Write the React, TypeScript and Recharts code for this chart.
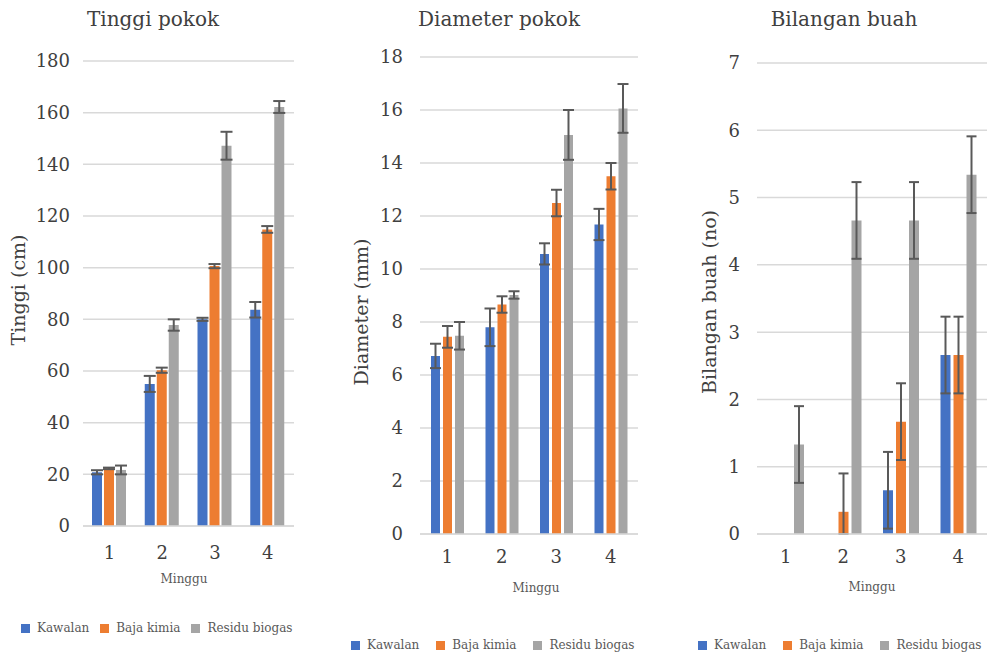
import { BarChart, Bar, XAxis, YAxis, CartesianGrid, ErrorBar, Legend, Label } from 'recharts'

const minggu = ['1', '2', '3', '4']

// Tinggi pokok (cm)
const tinggiKawalan = [20.8, 55.0, 80.0, 83.7]
const tinggiKawalanErr = [0.8, 3.1, 0.6, 3.0]
const tinggiBaja = [22.3, 60.3, 100.6, 114.8]
const tinggiBajaErr = [0.3, 1.0, 0.8, 1.3]
const tinggiResidu = [21.7, 77.8, 147.2, 162.2]
const tinggiResiduErr = [1.7, 2.2, 5.4, 2.3]
const tinggiTicks = [0, 20, 40, 60, 80, 100, 120, 140, 160, 180]

// Diameter pokok (mm)
const diameterKawalan = [6.72, 7.8, 10.57, 11.68]
const diameterKawalanErr = [0.46, 0.71, 0.4, 0.59]
const diameterBaja = [7.44, 8.66, 12.49, 13.5]
const diameterBajaErr = [0.41, 0.31, 0.5, 0.5]
const diameterResidu = [7.48, 9.02, 15.06, 16.06]
const diameterResiduErr = [0.52, 0.14, 0.94, 0.92]
const diameterTicks = [0, 2, 4, 6, 8, 10, 12, 14, 16, 18]

// Bilangan buah (no) - the week 2 error bar stops at the axis
const buahKawalan = [0, 0, 0.65, 2.66]
const buahKawalanErr = [0, 0, 0.57, 0.57]
const buahBaja = [0, 0.33, 1.67, 2.66]
const buahBajaErr: (number | [number, number])[] = [0, [0.33, 0.57], 0.57, 0.57]
const buahResidu = [1.33, 4.66, 4.66, 5.34]
const buahResiduErr = [0.57, 0.57, 0.57, 0.57]
const buahTicks = [0, 1, 2, 3, 4, 5, 6, 7]

const series = [
  { key: 'kawalan', name: 'Kawalan', color: '#4472C4' },
  { key: 'baja', name: 'Baja kimia', color: '#ED7D31' },
  { key: 'residu', name: 'Residu biogas', color: '#A5A5A5' },
]

const FONT = '"DejaVu Serif", serif'
const TEXT = '#404040'
const GRID = '#D9D9D9'

type Err = number | [number, number]

function buildRows(k: number[], kErr: Err[], b: number[], bErr: Err[], r: number[], rErr: Err[]) {
  return minggu.map((m, i) => ({
    minggu: m,
    kawalan: k[i], kawalanErr: kErr[i],
    baja: b[i], bajaErr: bErr[i],
    residu: r[i], residuErr: rErr[i],
  }))
}

const tinggiRows = buildRows(tinggiKawalan, tinggiKawalanErr, tinggiBaja, tinggiBajaErr, tinggiResidu, tinggiResiduErr)
const diameterRows = buildRows(diameterKawalan, diameterKawalanErr, diameterBaja, diameterBajaErr, diameterResidu, diameterResiduErr)
const buahRows = buildRows(buahKawalan, buahKawalanErr, buahBaja, buahBajaErr, buahResidu, buahResiduErr)

type PanelProps = {
  left: number
  width: number
  title: string
  titleX: number
  rows: ReturnType<typeof buildRows>
  ticks: number[]
  plot: { l: number; r: number; t: number; b: number }
  yTitle: string
  yTitlePos: [number, number]
  yTickMargin: number
  xTickMargin: number
  mingguPos: [number, number]
  barSize: number
  barGap: number
  cap: number
  legendPos: [number, number]
  legendGap: number
}

function Panel(p: PanelProps) {
  const yMax = p.ticks[p.ticks.length - 1]
  return (
    <div style={{ position: 'absolute', left: p.left, top: 0, width: p.width, height: 652 }}>
      <div style={{
        position: 'absolute', left: p.titleX - 150, width: 300, top: 9, textAlign: 'center',
        fontFamily: FONT, fontSize: 20, lineHeight: '20px', color: TEXT, zIndex: 2,
      }}>
        {p.title}
      </div>
      <BarChart
        width={p.width}
        height={652}
        data={p.rows}
        margin={{ top: p.plot.t, right: p.width - p.plot.r, left: 0, bottom: 0 }}
        barSize={p.barSize}
        barGap={p.barGap}
      >
        <CartesianGrid vertical={false} stroke={GRID} strokeWidth={1.5} />
        <XAxis
          dataKey="minggu"
          height={652 - p.plot.b}
          axisLine={{ stroke: GRID, strokeWidth: 1.5 }}
          tickLine={false}
          tickSize={0}
          tickMargin={p.xTickMargin}
          tick={{ fill: TEXT, fontSize: 18, fontFamily: FONT }}
        >
          <Label content={() => (
            <text x={p.mingguPos[0]} y={p.mingguPos[1]} textAnchor="middle" fill="#595959" fontSize={12} fontFamily={FONT}>
              Minggu
            </text>
          )} />
        </XAxis>
        <YAxis
          width={p.plot.l}
          domain={[0, yMax]}
          ticks={p.ticks}
          axisLine={false}
          tickLine={false}
          tickSize={0}
          tickMargin={p.yTickMargin}
          tick={{ fill: TEXT, fontSize: 18, fontFamily: FONT }}
        >
          <Label content={() => (
            <text
              x={p.yTitlePos[0]}
              y={p.yTitlePos[1]}
              transform={`rotate(-90 ${p.yTitlePos[0]} ${p.yTitlePos[1]})`}
              textAnchor="middle"
              dominantBaseline="central"
              fill={TEXT}
              fontSize={19}
              fontFamily={FONT}
            >
              {p.yTitle}
            </text>
          )} />
        </YAxis>
        <Legend
          layout="horizontal"
          verticalAlign="middle"
          align="center"
          wrapperStyle={{ left: p.legendPos[0], top: p.legendPos[1], width: 'auto', height: 'auto' }}
          content={() => (
            <div style={{ display: 'flex', alignItems: 'center', fontFamily: FONT, fontSize: 12, color: '#595959', whiteSpace: 'nowrap' }}>
              {series.map((s, i) => (
                <span key={s.key} style={{ display: 'flex', alignItems: 'center', marginRight: i < series.length - 1 ? p.legendGap : 0 }}>
                  <span style={{ display: 'inline-block', width: 9, height: 9, background: s.color, marginRight: 7 }} />
                  {s.name}
                </span>
              ))}
            </div>
          )}
        />
        {series.map((s) => (
          <Bar key={s.key} dataKey={s.key} name={s.name} fill={s.color} isAnimationActive={false}>
            <ErrorBar dataKey={`${s.key}Err`} width={p.cap} stroke="#595959" strokeWidth={2} />
          </Bar>
        ))}
      </BarChart>
    </div>
  )
}

export default function App() {
  return (
    <div style={{ position: 'absolute', left: 0, top: 0, width: 993, height: 652, background: '#fff', overflow: 'hidden' }}>
      <Panel
        left={0} width={330} title="Tinggi pokok" titleX={153}
        rows={tinggiRows} ticks={tinggiTicks}
        plot={{ l: 83, r: 294, t: 61, b: 526 }}
        yTitle="Tinggi (cm)" yTitlePos={[18, 290]}
        yTickMargin={13} xTickMargin={20} mingguPos={[184, 583]}
        barSize={10} barGap={2} cap={6}
        legendPos={[21, 621]} legendGap={11}
      />
      <Panel
        left={330} width={330} title="Diameter pokok" titleX={169}
        rows={diameterRows} ticks={diameterTicks}
        plot={{ l: 90, r: 308, t: 57, b: 534 }}
        yTitle="Diameter (mm)" yTitlePos={[31, 312]}
        yTickMargin={17} xTickMargin={16} mingguPos={[206, 592]}
        barSize={9} barGap={3} cap={5.5}
        legendPos={[21, 638]} legendGap={17}
      />
      <Panel
        left={660} width={333} title="Bilangan buah" titleX={184}
        rows={buahRows} ticks={buahTicks}
        plot={{ l: 97, r: 327, t: 63, b: 534 }}
        yTitle="Bilangan buah (no)" yTitlePos={[49, 302]}
        yTickMargin={17} xTickMargin={16} mingguPos={[212, 591]}
        barSize={10} barGap={3} cap={5}
        legendPos={[38, 638]} legendGap={17}
      />
    </div>
  )
}
